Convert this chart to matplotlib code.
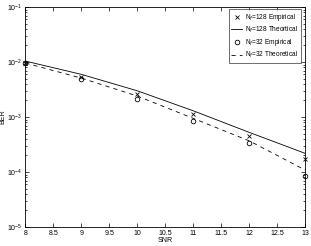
import numpy as np
import matplotlib.pyplot as plt

# SNR points
snr = [8, 9, 10, 11, 12, 13]

# BER values
ber_128_emp = [9.5e-3, 5.4e-3, 2.6e-3, 1.12e-3, 4.5e-4, 1.7e-4]
ber_128_theo = [1.04e-2, 5.97e-3, 3.0e-3, 1.30e-3, 5.27e-4, 2.19e-4]
ber_32_emp = [9.5e-3, 4.84e-3, 2.1e-3, 8.6e-4, 3.33e-4, 8.5e-5]
ber_32_theo = [9.6e-3, 5.1e-3, 2.41e-3, 9.46e-4, 3.7e-4, 1.09e-4]

xticks = [8, 8.5, 9, 9.5, 10, 10.5, 11, 11.5, 12, 12.5, 13]

plt.rcParams['font.family'] = ['Liberation Sans', 'DejaVu Sans']

fig = plt.figure(figsize=(3.11, 2.46), dpi=100)
ax = fig.add_axes([0.0814, 0.0772, 0.8993, 0.8943])

ax.semilogy(snr, ber_128_emp, 'kx', markersize=2.7, markeredgewidth=0.6,
            linestyle='none', clip_on=False, label='N$_f$=128 Empirical')
ax.semilogy(snr, ber_128_theo, 'k-', linewidth=0.6, label='N$_f$=128 Theortical')
ax.semilogy(snr, ber_32_emp, 'ko', markersize=3.3, markerfacecolor='none',
            markeredgewidth=0.6, linestyle='none', clip_on=False,
            label='N$_f$=32 Empirical')
ax.semilogy(snr, ber_32_theo, 'k--', linewidth=0.6, dashes=(5, 5),
            label='N$_f$=32 Theoretical')

ax.set_xlim(8, 13)
ax.set_ylim(1e-5, 1e-1)
ax.set_xticks(xticks)
ax.set_xticklabels([f'{t:g}' for t in xticks])
ax.set_xlabel('SNR', fontsize=5, labelpad=0)
ax.set_ylabel('BER', fontsize=5, labelpad=1)

ax.tick_params(which='both', direction='in', top=True, right=True,
               labelsize=5, width=0.5, pad=2)
ax.tick_params(which='major', length=3)
ax.tick_params(which='minor', length=1.5)
for s in ax.spines.values():
    s.set_linewidth(0.6)

leg = ax.legend(loc='upper right', fontsize=4.7, frameon=True, fancybox=False,
                edgecolor='black', handlelength=1.6, handletextpad=0.5,
                borderpad=0.4, labelspacing=0.3, borderaxespad=0,
                bbox_to_anchor=(0.985, 0.99))
leg.get_frame().set_linewidth(0.5)

fig.savefig('out.png', dpi=100)
